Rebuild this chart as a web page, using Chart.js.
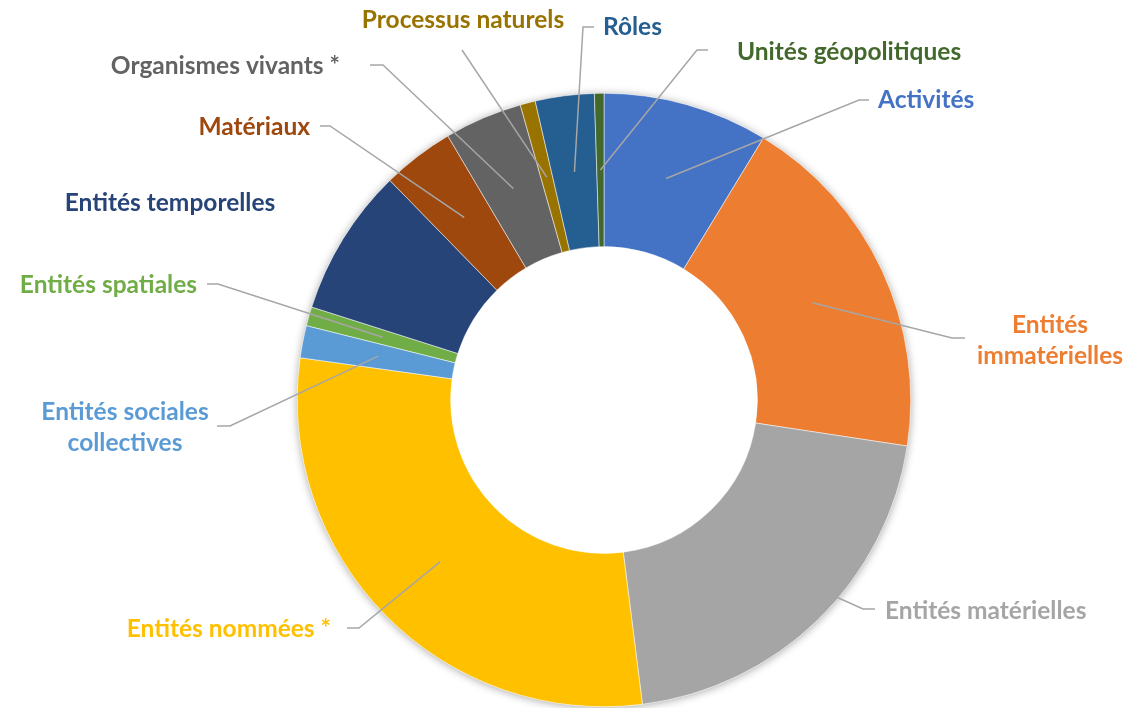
<!DOCTYPE html>
<html lang="fr">
<head>
<meta charset="utf-8">
<title>Graphique anneau</title>
<script src="https://cdn.jsdelivr.net/npm/chart.js@4.4.0/dist/chart.umd.min.js"></script>
<style>
  html, body { margin: 0; padding: 0; background: #fff; }
  #contenedor { width: 1143px; height: 708px; position: relative; }
</style>
</head>
<body>
<div id="contenedor"><canvas id="grafica-anneau"></canvas></div>
<script>
// Données (en %), dans l'ordre des secteurs en partant du haut
var categories = ['Activités', 'Entités immatérielles', 'Entités matérielles', 'Entités nommées *',
  'Entités sociales collectives', 'Entités spatiales', 'Entités temporelles', 'Matériaux',
  'Organismes vivants *', 'Processus naturels', 'Rôles', 'Unités géopolitiques'];
var valeurs = [8.7, 18.7, 20.6, 29.2, 1.7, 1.0, 7.8, 3.8, 4.1, 0.8, 3.1, 0.5];
var couleurs = ['#4472C4', '#ED7D31', '#A5A5A5', '#FFC000', '#5B9BD5', '#70AD47',
  '#264478', '#9E480E', '#636363', '#997300', '#255E91', '#43682B'];
// texte des étiquettes (une ligne par élément)
var etiquettes = [['Activités'], ['Entités', 'immatérielles'], ['Entités matérielles'], ['Entités nommées *'],
  ['Entités sociales', 'collectives'], ['Entités spatiales'], ['Entités temporelles'], ['Matériaux'],
  ['Organismes vivants *'], ['Processus naturels'], ['Rôles'], ['Unités géopolitiques']];

// placement des étiquettes, relatif au centre de l'anneau
var placement = [
  { x: 274, y: -300, align: 'left', ligne: [[255, -300], [265, -300]] },
  { x: 446, y: -75, align: 'center', ligne: [[348, -62], [361, -62]] },
  { x: 281, y: 211, align: 'left', ligne: [[259, 209], [271, 209]] },
  { x: -273, y: 229, align: 'right', ligne: [[-245, 228], [-257, 228]] },
  { x: -479, y: 12, align: 'center', ligne: [[-374, 26], [-387, 26]] },
  { x: -407, y: -115, align: 'right', ligne: [[-386, -116], [-397, -116]] },
  { x: -434, y: -197, align: 'center', ligne: null },
  { x: -294, y: -273, align: 'right', ligne: [[-274, -274], [-284, -274]] },
  { x: -264, y: -334, align: 'right', ligne: [[-221, -335], [-234, -335]] },
  { x: -141, y: -380, align: 'center', ligne: [[-142, -350]] },
  { x: -1, y: -373, align: 'left', ligne: [[-21, -373], [-10, -373]] },
  { x: 133, y: -348, align: 'left', ligne: [[93, -350], [104, -350]] }
];

var pluginEtiquettes = {
  id: 'etiquettes',
  beforeDatasetsDraw: function(chart) {
    // ombre légère autour de l'anneau
    var arc = chart.getDatasetMeta(0).data[0];
    if (!arc) return;
    var ctx = chart.ctx;
    ctx.save();
    ctx.shadowColor = 'rgba(0,0,0,0.35)';
    ctx.shadowBlur = 8;
    ctx.shadowOffsetY = 1;
    ctx.fillStyle = '#fff';
    ctx.beginPath();
    ctx.arc(arc.x, arc.y, arc.outerRadius, 0, Math.PI * 2);
    ctx.fill();
    ctx.restore();
  },
  afterDatasetsDraw: function(chart) {
    var ctx = chart.ctx;
    var meta = chart.getDatasetMeta(0);
    meta.data.forEach(function(arc, i) {
      var pos = placement[i];
      var cx = arc.x, cy = arc.y;
      if (pos.ligne) {
        var p = arc.getCenterPoint();
        ctx.save();
        ctx.strokeStyle = '#A6A6A6';
        ctx.lineWidth = 1.5;
        ctx.beginPath();
        ctx.moveTo(p.x, p.y);
        pos.ligne.forEach(function(pt) {
          ctx.lineTo(cx + pt[0], cy + pt[1]);
        });
        ctx.stroke();
        ctx.restore();
      }
      var lignes = etiquettes[i];
      ctx.save();
      ctx.font = 'bold 24.5px Lato';
      ctx.fillStyle = couleurs[i];
      ctx.textAlign = pos.align;
      ctx.textBaseline = 'middle';
      for (var k = 0; k < lignes.length; k++) {
        ctx.fillText(lignes[k], cx + pos.x, cy + pos.y + k * 31);
      }
      ctx.restore();
    });
  }
};

var ctx = document.getElementById('grafica-anneau').getContext('2d');
var chart = new Chart(ctx, {
  type: 'doughnut',
  data: {
    labels: categories,
    datasets: [{
      data: valeurs,
      backgroundColor: couleurs,
      borderColor: '#ffffff',
      borderWidth: 0.5
    }]
  },
  options: {
    responsive: true,
    maintainAspectRatio: false,
    animation: false,
    cutout: '50%',
    layout: { padding: { top: 93, bottom: 1, left: 297, right: 232 } },
    plugins: {
      legend: { display: false },
      tooltip: { enabled: false }
    }
  },
  plugins: [pluginEtiquettes]
});
</script>
</body>
</html>
